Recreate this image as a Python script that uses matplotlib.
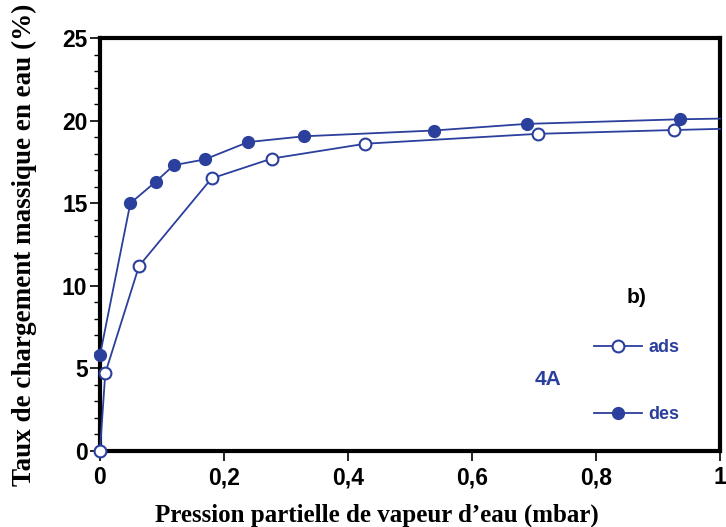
import matplotlib.pyplot as plt
from matplotlib.ticker import MultipleLocator, FuncFormatter

# Isothermes d'adsorption / desorption de l'eau sur zeolithe 4A
x_ads = [0.0, 0.0085, 0.063, 0.18, 0.277, 0.428, 0.707, 0.926, 1.0]
y_ads = [0.0, 4.7, 11.2, 16.5, 17.7, 18.6, 19.2, 19.43, 19.5]

x_des = [0.0, 0.049, 0.09, 0.119, 0.169, 0.239, 0.329, 0.538, 0.688, 0.936, 1.0]
y_des = [5.8, 15.0, 16.3, 17.3, 17.65, 18.7, 19.05, 19.4, 19.8, 20.08, 20.12]

BLEU = "#2b3f9c"

fig = plt.figure(figsize=(7.26, 5.27), dpi=100)
ax = fig.add_axes([0.1377, 0.1442, 0.854, 0.7837])

# le dernier point (x=1) sert seulement a prolonger la courbe jusqu'au cadre
ads, = ax.plot(x_ads, y_ads, color=BLEU, lw=1.3, marker="o", ms=8.5,
               mfc="white", mec=BLEU, mew=1.5, markevery=list(range(len(x_ads) - 1)),
               label="ads", clip_on=False, zorder=3)
des, = ax.plot(x_des, y_des, color=BLEU, lw=1.3, marker="o", ms=8.5,
               mfc=BLEU, mec=BLEU, markevery=list(range(len(x_des) - 1)),
               label="des", clip_on=False, zorder=3)

ax.set_xlim(0, 1)
ax.set_ylim(0, 25)
ax.xaxis.set_major_locator(MultipleLocator(0.2))
ax.yaxis.set_major_locator(MultipleLocator(5))
ax.yaxis.set_minor_locator(MultipleLocator(1))

fmt = FuncFormatter(lambda v, p: ("%g" % round(v, 2)).replace(".", ","))
ax.xaxis.set_major_formatter(fmt)

for s in ax.spines.values():
    s.set_linewidth(3)
ax.tick_params(which="major", direction="out", length=7, width=1.2)
ax.tick_params(which="minor", direction="out", length=4, width=1.0)
ax.tick_params(axis="y", pad=2)
ax.tick_params(axis="x", pad=4)
for lab in ax.get_xticklabels() + ax.get_yticklabels():
    lab.set_fontfamily("Liberation Sans")
    lab.set_fontweight("bold")
    lab.set_fontsize(16.5)

ax.set_xlabel("Pression partielle de vapeur d\u2019eau (mbar)", family="Liberation Serif",
              fontweight="bold", fontsize=18, labelpad=10, x=0.446)
ax.set_ylabel("Taux de chargement massique en eau (%)", family="Liberation Serif",
              fontweight="bold", fontsize=19.5, labelpad=18)

ax.text(0.865, 9.3, "b)", fontsize=15, fontweight="bold", family="Liberation Sans",
        ha="center", va="center")
ax.text(0.722, 4.3, "4A", fontsize=15, fontweight="bold", family="Liberation Sans",
        color=BLEU, ha="center", va="center")

leg = ax.legend(handles=[ads, des], loc="upper left", bbox_to_anchor=(0.77, 0.31),
                frameon=False, handlelength=2.7, handletextpad=0.35,
                labelspacing=2.75, labelcolor=BLEU,
                prop={"family": "Liberation Sans", "weight": "bold", "size": 13})

fig.savefig("out.png", dpi=100)
